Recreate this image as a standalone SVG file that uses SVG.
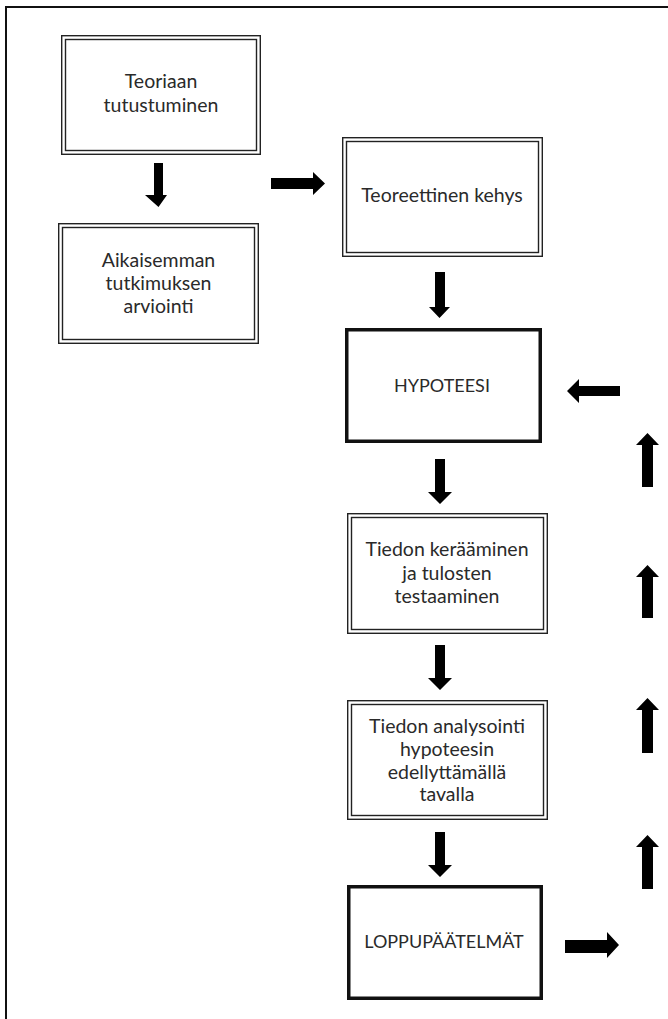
<svg xmlns="http://www.w3.org/2000/svg" width="668" height="1019" viewBox="0 0 668 1019">
<style>
.frame{fill:none;stroke:#111;stroke-width:2}
.dbl{fill:#fff;stroke:#222;stroke-width:1.4}
.dbli{fill:none;stroke:#222;stroke-width:1.4}
.thick{fill:#fff;stroke:#111;stroke-width:3.5}
.lbl{font-family:Lato,"Open Sans","Liberation Sans",sans-serif;font-size:19.5px;fill:#2a2a2a;text-anchor:middle}
.caps{font-size:18px}
.arr{fill:#000}
</style>
<rect x="0" y="0" width="668" height="1019" fill="#fff"/>
<rect class="frame" x="6" y="7" width="700" height="1100"/>
<g id="n1">
<rect class="dbl" x="61.7" y="35.7" width="198.6" height="118.6"/>
<rect class="dbli" x="65.5" y="39.5" width="191" height="111"/>
<text class="lbl" x="161" y="88">Teoriaan</text>
<text class="lbl" x="161" y="112">tutustuminen</text>
</g>
<g id="n2">
<rect class="dbl" x="58.7" y="223.7" width="199.6" height="119.6"/>
<rect class="dbli" x="62.5" y="227.5" width="192" height="112"/>
<text class="lbl" x="158.5" y="267">Aikaisemman</text>
<text class="lbl" x="158.5" y="290">tutkimuksen</text>
<text class="lbl" x="158.5" y="313">arviointi</text>
</g>
<g id="n3">
<rect class="dbl" x="342.7" y="137.7" width="199.6" height="118.6"/>
<rect class="dbli" x="346.5" y="141.5" width="192" height="111"/>
<text class="lbl" x="442" y="202">Teoreettinen kehys</text>
</g>
<g id="n4">
<rect class="thick" x="346.75" y="329.75" width="193.5" height="111.5"/>
<text class="lbl caps" x="442" y="392">HYPOTEESI</text>
</g>
<g id="n5">
<rect class="dbl" x="347.7" y="513.7" width="199.6" height="119.6"/>
<rect class="dbli" x="351.5" y="517.5" width="192" height="112"/>
<text class="lbl" x="447" y="556">Tiedon kerääminen</text>
<text class="lbl" x="447" y="580">ja tulosten</text>
<text class="lbl" x="447" y="603">testaaminen</text>
</g>
<g id="n6">
<rect class="dbl" x="347.7" y="700.7" width="199.6" height="118.6"/>
<rect class="dbli" x="351.5" y="704.5" width="192" height="111"/>
<text class="lbl" x="447" y="733">Tiedon analysointi</text>
<text class="lbl" x="447" y="756">hypoteesin</text>
<text class="lbl" x="447" y="779">edellyttämällä</text>
<text class="lbl" x="447" y="801">tavalla</text>
</g>
<g id="n7">
<rect class="thick" x="348.75" y="886.75" width="192.5" height="111.5"/>
<text class="lbl caps" x="444" y="948">LOPPUPÄÄTELMÄT</text>
</g>
<g id="connectors">
<polygon class="arr" points="154,163 163,163 163,195 167,195 158.5,207 145,195 154,195"/>
<polygon class="arr" points="271,178 313,178 313,172 325,183.5 313,195 313,189 271,189"/>
<polygon class="arr" points="435,272 445,272 445,307 450,307 439.5,318 429,307 435,307"/>
<polygon class="arr" points="435,459 445,459 445,492 452,492 440,504 428,492 435,492"/>
<polygon class="arr" points="435,645 445,645 445,678 452,678 440,690 428,678 435,678"/>
<polygon class="arr" points="435,832 445,832 445,865 452,865 440,877 428,865 435,865"/>
<polygon class="arr" points="565,940 607,940 607,932 619,945 607,958 607,953 565,953"/>
<polygon class="arr" points="620,386 579,386 579,379 567,391 579,403 579,396 620,396"/>
<polygon class="arr" points="642,487 653,487 653,445 659,445 647.5,433 636,445 642,445"/>
<polygon class="arr" points="642,618 653,618 653,577 659,577 647.5,565 636,577 642,577"/>
<polygon class="arr" points="642,753 653,753 653,710 659,710 647.5,698 636,710 642,710"/>
<polygon class="arr" points="642,889 653,889 653,847 659,847 647.5,835 636,847 642,847"/>
</g>
</svg>
